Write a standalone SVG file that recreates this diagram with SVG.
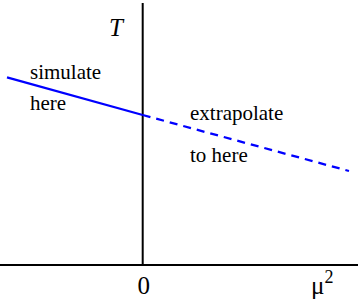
<svg xmlns="http://www.w3.org/2000/svg" width="360" height="300" viewBox="0 0 360 300">
<style>
text{font-family:'Liberation Serif','Times New Roman',serif;fill:#000}
.lbl{font-size:21px}
.math{font-size:25px}
.axis{stroke:#000;stroke-width:2;fill:none}
.sim{stroke:#0000ff;stroke-width:2.3;fill:none}
.ext{stroke:#0000ff;stroke-width:2.3;fill:none;stroke-dasharray:8 6}
</style>
<rect width="360" height="300" fill="#fff"/>
<g id="connectors">
<line class="axis" x1="142.7" y1="3" x2="142.7" y2="265"/>
<line class="axis" x1="0" y1="265" x2="358" y2="265"/>
<line class="sim" x1="7" y1="77.3" x2="142.7" y2="115"/>
<line class="ext" x1="142.7" y1="115" x2="349" y2="171"/>
</g>
<g id="T"><text class="math" x="109" y="35.5" font-style="italic">T</text></g>
<g id="simulate"><text class="lbl" x="30" y="79">simulate</text><text class="lbl" x="30" y="110">here</text></g>
<g id="extrapolate"><text class="lbl" x="190" y="119.5">extrapolate</text><text class="lbl" x="190" y="162">to here</text></g>
<g id="zero"><text class="math" x="137.5" y="293.5">0</text></g>
<g id="mu"><text class="math" x="311" y="293.5">μ<tspan font-size="18" dy="-11">2</tspan></text></g>
</svg>
